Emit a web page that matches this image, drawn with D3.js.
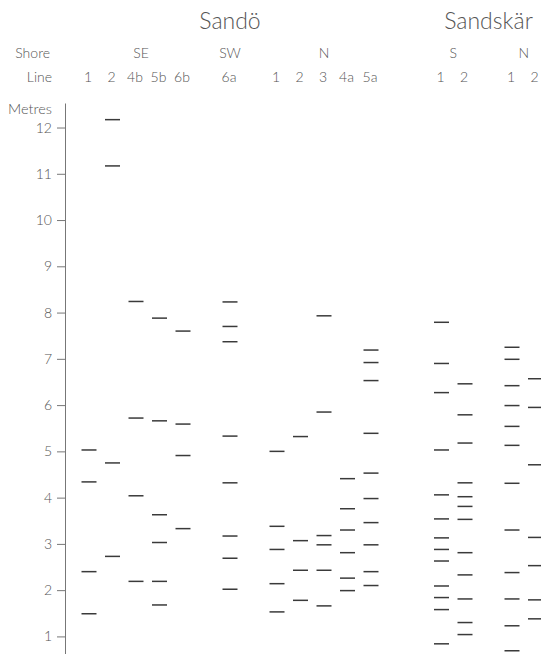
<!DOCTYPE html>
<html>
<head>
<meta charset="utf-8">
<script src="https://d3js.org/d3.v7.min.js"></script>
<style>
	body { margin: 0; background: #fff; }
	text { font-family: Lato, "DejaVu Sans", sans-serif; font-weight: 300; fill: #555; }
	.axis path, .axis line { stroke: #777; stroke-width: 1; }
	.axis text { font-size: 14px; fill: #555; }
	.level { stroke: #3a3a3a; stroke-width: 1.5; }
</style>
</head>
<body>
<div id="chart"></div>
<script>
// Data: one entry per survey line
var islands = ["Sandö", "Sandskär"];
var lineIsland = ["Sandö", "Sandö", "Sandö", "Sandö", "Sandö", "Sandö",
	"Sandö", "Sandö", "Sandö", "Sandö", "Sandö",
	"Sandskär", "Sandskär", "Sandskär", "Sandskär"];
var lineShore = ["SE", "SE", "SE", "SE", "SE", "SW",
	"N", "N", "N", "N", "N",
	"S", "S", "N", "N"];
var lineLabels = ["1", "2", "4b", "5b", "6b", "6a", "1", "2", "3", "4a", "5a", "1", "2", "1", "2"];
var yTicks = [1, 2, 3, 4, 5, 6, 7, 8, 9, 10, 11, 12];

// beach ridge levels (metres) for each line, same order as above
var levels = [
	[5.03, 4.34, 2.40, 1.49],
	[12.17, 11.17, 4.75, 2.73],
	[8.24, 5.72, 4.04, 2.19],
	[7.88, 5.66, 3.63, 3.03, 2.19, 1.68],
	[7.60, 5.59, 4.91, 3.33],
	[8.23, 7.70, 7.37, 5.33, 4.32, 3.17, 2.69, 2.02],
	[5.00, 3.38, 2.88, 2.14, 1.53],
	[5.32, 3.07, 2.43, 1.78],
	[7.93, 5.85, 3.18, 2.98, 2.43, 1.66],
	[4.41, 3.76, 3.30, 2.81, 2.26, 1.99],
	[7.19, 6.92, 6.53, 5.39, 4.53, 3.98, 3.46, 2.98, 2.40, 2.10],
	[7.79, 6.90, 6.27, 5.03, 4.06, 3.54, 3.13, 2.88, 2.63, 2.09, 1.84, 1.58, 0.84],
	[6.46, 5.79, 5.18, 4.32, 4.02, 3.81, 3.53, 2.81, 2.33, 1.81, 1.30, 1.04],
	[7.25, 6.99, 6.42, 5.99, 5.54, 5.13, 4.31, 3.30, 2.38, 1.81, 1.23, 0.69],
	[6.57, 5.95, 4.71, 3.14, 2.53, 1.79, 1.38]
];

var width = 541,
	height = 654,
	axisX = 65,
	markW = 15;

var svg = d3.select("#chart")
	.append("svg")
	.attr("width", width)
	.attr("height", height);

// Slot index for each column: one empty slot between shores, two between islands
var slots = [], slot = 0;
lineLabels.forEach(function(d, i) {
	if (i > 0) {
		if (lineIsland[i] != lineIsland[i - 1]) slot += 3;
		else if (lineShore[i] != lineShore[i - 1]) slot += 2;
		else slot += 1;
	}
	slots.push(slot);
});

var x = d3.scaleLinear()
	.domain([0, 19])
	.range([89, 535.5]);

var y = d3.scaleLinear()
	.domain([0.62, 12.53])
	.range([654, 103]);

// y axis
var yAxis = d3.axisLeft(y)
	.tickValues(yTicks)
	.tickSize(8)
	.tickPadding(5)
	.tickSizeOuter(0);

svg.append("g")
	.attr("class", "axis")
	.attr("transform", "translate(" + axisX + ",0)")
	.call(yAxis);

svg.append("text")
	.attr("x", 52)
	.attr("y", 114)
	.attr("text-anchor", "end")
	.style("font-size", "14.5px")
	.text("Metres");

// header rows
svg.append("text")
	.attr("x", 50)
	.attr("y", 58)
	.attr("text-anchor", "end")
	.style("font-size", "14px")
	.text("Shore");

svg.append("text")
	.attr("x", 52)
	.attr("y", 82)
	.attr("text-anchor", "end")
	.style("font-size", "14px")
	.text("Line");

islands.forEach(function(isl) {
	var xs = slots.filter(function(s, i) { return lineIsland[i] == isl; }).map(x);
	svg.append("text")
		.attr("x", (d3.min(xs) + d3.max(xs)) / 2)
		.attr("y", 29)
		.attr("text-anchor", "middle")
		.style("font-size", "23px")
		.text(isl);
});

// shore group labels
var groups = d3.groups(d3.range(lineLabels.length), function(i) { return lineIsland[i] + "|" + lineShore[i]; });
groups.forEach(function(g) {
	var xs = g[1].map(function(i) { return x(slots[i]); });
	svg.append("text")
		.attr("x", (d3.min(xs) + d3.max(xs)) / 2 + (lineShore[g[1][0]] == "SE" ? 5 : 0))
		.attr("y", 58)
		.attr("text-anchor", "middle")
		.style("font-size", "14px")
		.text(lineShore[g[1][0]]);
});

svg.append("g")
	.selectAll("text")
	.data(lineLabels)
	.enter().append("text")
	.attr("x", function(d, i) { return x(slots[i]) - 1; })
	.attr("y", 82)
	.attr("text-anchor", "middle")
	.style("font-size", "14px")
	.text(function(d) { return d; });

// level marks
var cols = svg.append("g")
	.selectAll("g")
	.data(levels)
	.enter().append("g")
	.attr("transform", function(d, i) { return "translate(" + x(slots[i]) + ",0)"; });

cols.selectAll("line")
	.data(function(d) { return d; })
	.enter().append("line")
	.attr("class", "level")
	.attr("x1", -markW / 2)
	.attr("x2", markW / 2)
	.attr("y1", function(d) { return y(d); })
	.attr("y2", function(d) { return y(d); });
</script>
</body>
</html>
